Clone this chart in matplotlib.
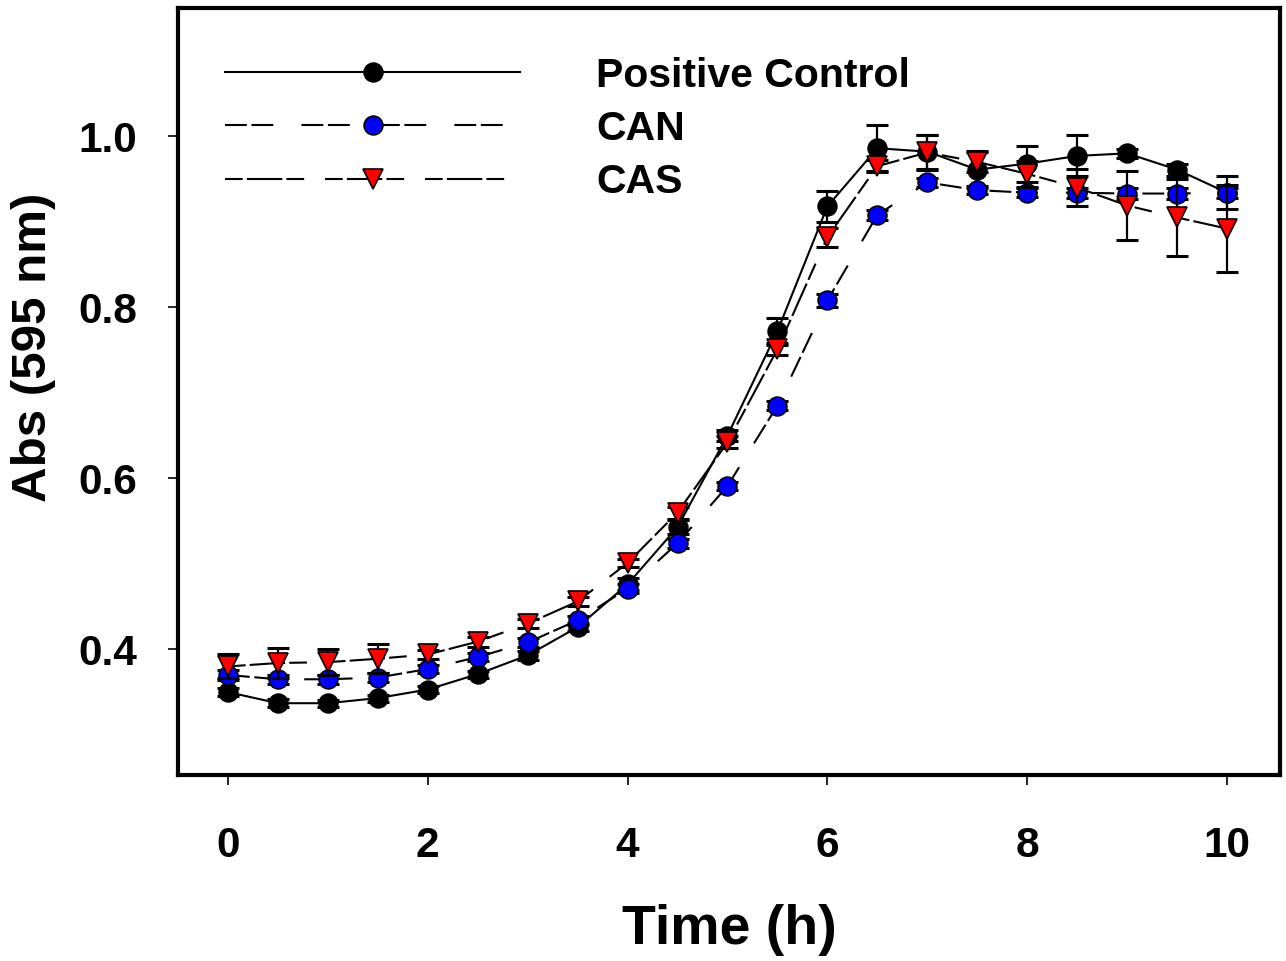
import matplotlib
matplotlib.use("Agg")
import matplotlib.pyplot as plt
import numpy as np

plt.rcParams['font.family'] = ['Liberation Sans', 'DejaVu Sans']
plt.rcParams['font.weight'] = 'bold'

time_h = [0, 0.5, 1, 1.5, 2, 2.5, 3, 3.5, 4, 4.5, 5, 5.5, 6, 6.5, 7, 7.5, 8, 8.5, 9, 9.5, 10]

pos_ctrl = [0.350, 0.337, 0.337, 0.343, 0.353, 0.371, 0.393, 0.426, 0.476, 0.543, 0.650,
            0.772, 0.918, 0.986, 0.982, 0.961, 0.968, 0.977, 0.980, 0.961, 0.934]
pos_err = [0.005, 0.005, 0.004, 0.004, 0.004, 0.004, 0.005, 0.005, 0.007, 0.008, 0.006,
           0.016, 0.018, 0.027, 0.020, 0.022, 0.021, 0.024, 0.005, 0.007, 0.019]

can = [0.370, 0.365, 0.365, 0.367, 0.377, 0.391, 0.408, 0.434, 0.471, 0.524, 0.591,
       0.685, 0.808, 0.908, 0.946, 0.937, 0.934, 0.934, 0.933, 0.933, 0.934]
can_err = [0.006, 0.005, 0.005, 0.005, 0.005, 0.005, 0.005, 0.005, 0.005, 0.005, 0.005,
           0.005, 0.008, 0.006, 0.005, 0.005, 0.005, 0.006, 0.006, 0.006, 0.006]

cas = [0.380, 0.384, 0.385, 0.389, 0.394, 0.409, 0.430, 0.456, 0.501, 0.560, 0.642,
       0.751, 0.882, 0.965, 0.981, 0.970, 0.956, 0.940, 0.919, 0.905, 0.892]
cas_err = [0.014, 0.017, 0.015, 0.017, 0.005, 0.006, 0.005, 0.005, 0.005, 0.007, 0.007,
           0.007, 0.011, 0.007, 0.020, 0.012, 0.015, 0.022, 0.040, 0.045, 0.051]

labels = ["Positive Control", "CAN", "CAS"]
x_ticks = [0, 2, 4, 6, 8, 10]
y_ticks = [0.4, 0.6, 0.8, 1.0]

fig = plt.figure(figsize=(12.86, 9.61), dpi=100)
ax = fig.add_axes([0.1384, 0.1935, 0.8569, 0.7982])

lw = 1.5
common_err = dict(fmt='none', ecolor='black', elinewidth=1.6, capsize=8, capthick=2.2)

# Positive control
ax.errorbar(time_h, pos_ctrl, yerr=pos_err, zorder=2, **common_err)
h1, = ax.plot(time_h, pos_ctrl, color='black', lw=lw, linestyle='-',
              marker='o', markersize=13.5, markerfacecolor='black',
              markeredgecolor='black', markeredgewidth=1.2, zorder=3)

# CAN
ax.errorbar(time_h, can, yerr=can_err, zorder=4, **common_err)
h2, = ax.plot(time_h, can, color='black', lw=lw,
              linestyle=(0, (10.5, 2.2, 10.5, 13.5)),
              marker='o', markersize=13.5, markerfacecolor='#0000ff',
              markeredgecolor='black', markeredgewidth=1.2, zorder=5)

# CAS
ax.errorbar(time_h, cas, yerr=cas_err, zorder=6, **common_err)
h3, = ax.plot(time_h, cas, color='black', lw=lw,
              linestyle=(0, (8.5, 2, 17, 2, 8.5, 10)),
              marker='v', markersize=15, markerfacecolor='#ff0000',
              markeredgecolor='black', markeredgewidth=1.2, zorder=7)

ax.set_xlim(-0.5, 10.53)
ax.set_ylim(0.253, 1.15)
ax.set_xticks(x_ticks)
ax.set_xticklabels([str(t) for t in x_ticks])
ax.set_yticks(y_ticks)
ax.set_yticklabels([f"{v:.1f}" for v in y_ticks])

for s in ax.spines.values():
    s.set_linewidth(3)
ax.tick_params(axis='both', direction='out', length=7.5, width=1.2,
               labelsize=30.5)
ax.tick_params(axis='y', pad=22)
ax.tick_params(axis='x', pad=29)
for lab in ax.get_xticklabels() + ax.get_yticklabels():
    lab.set_fontweight('bold')

ax.set_xlabel("Time (h)", fontsize=40, fontweight='bold')
ax.set_ylabel("Abs (595 nm)", fontsize=35.5, fontweight='bold')
ax.xaxis.set_label_coords(0.5, -0.168)
ax.yaxis.set_label_coords(-0.111, 0.557)

leg = ax.legend([h1, h2, h3], labels, loc='upper left', frameon=False,
                fontsize=29.5, handlelength=7.2, handletextpad=1.85,
                labelspacing=0.37, numpoints=1,
                bbox_to_anchor=(0.028, 0.958), borderaxespad=0.0)
for t in leg.get_texts():
    t.set_fontweight('bold')

fig.savefig("out.png", dpi=100)
